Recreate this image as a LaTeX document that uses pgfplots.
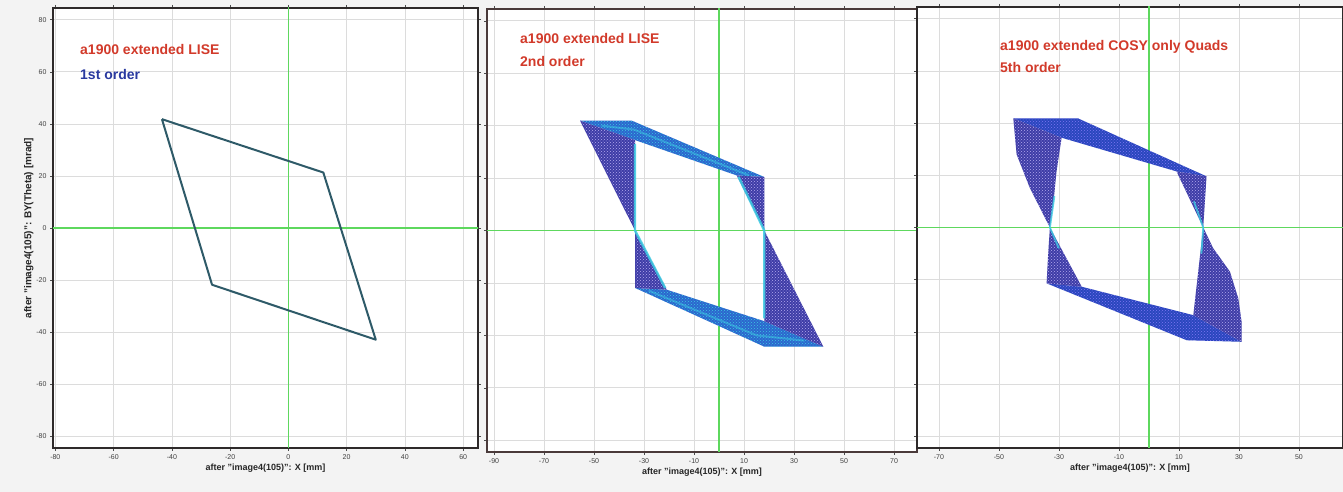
\documentclass[border=0pt]{standalone}
\usepackage{fontspec}
\setmainfont{Liberation Sans}
\usepackage{pgfplots}
\pgfplotsset{compat=1.18}
\usetikzlibrary{patterns}
\definecolor{bg}{HTML}{F3F3F3}
\definecolor{gridc}{HTML}{DCDCDC}
\definecolor{zgreen}{HTML}{5ED85E}
\definecolor{framec}{HTML}{2E2A2A}
\definecolor{framebr}{HTML}{4A3A3A}
\definecolor{tred}{HTML}{D23A2A}
\definecolor{tblue}{HTML}{2A3AA0}
\definecolor{lineteal}{HTML}{2E5A68}
\definecolor{dkfill}{HTML}{3E3CA6}
\definecolor{band}{HTML}{2C66CE}
\definecolor{band3}{HTML}{2A46BE}
\definecolor{cyanl}{HTML}{3CCBE2}
\definecolor{speck}{HTML}{B4AAF0}
\pgfplotsset{
  panel/.style={
    scale only axis, anchor=south west,
    axis line style={line width=1.6pt},
    ymin=-84.5, ymax=84.5, ytick={-80,-60,...,80},
    grid=major, major grid style={gridc, line width=0.6pt},
    tick style={black!70, line width=0.5pt},
    tick align=outside, major tick length=3pt,
    tick label style={font=\fontsize{7}{8}\selectfont, text=black!75},
    /pgf/number format/assume math mode=true,
    axis background/.style={fill=white},
    xlabel style={font=\bfseries\fontsize{9}{10}\selectfont, text=black!85, yshift=2pt},
    clip=true,
  },
  zeroline/.style={zgreen, line width=1.4pt},
}
\begin{document}
\begin{tikzpicture}[x=1pt,y=1pt]
\useasboundingbox (0,0) rectangle (1343,492);
\fill[bg] (0,0) rectangle (1343,492);

% ---------- Panel 1 ----------
\begin{axis}[panel, at={(53pt,44pt)}, width=425pt, height=440pt,
  xmin=-80.8, xmax=65.1, xtick={-80,-60,...,60},
  axis line style={framec},
  xlabel={after "image4(105)": X [mm]},
  ylabel={after "image4(105)": BY(Theta) [mrad]},
  ylabel style={font=\bfseries\fontsize{10}{11}\selectfont, text=black!85, yshift=-4pt}]
\addplot[zeroline] coordinates {(0,-100) (0,100)};
\addplot[zeroline] coordinates {(-100,0) (100,0)};
\addplot[lineteal, line width=2pt, line join=round] coordinates {(-43.4,41.8) (12.0,21.3) (30.0,-42.9) (-26.2,-21.8) (-43.4,41.8)};
\end{axis}

% ---------- Panel 2 ----------
\begin{axis}[panel, at={(487pt,40pt)}, width=430pt, height=443pt,
  xmin=-92.8, xmax=79.2, xtick={-90,-70,...,70}, yticklabels={},
  axis line style={framebr},
  xlabel={after "image4(105)": X [mm]}]
\addplot[zeroline] coordinates {(0,-100) (0,100)};
\addplot[zeroline] coordinates {(-100,0) (100,0)};
% bands
\addplot[fill=band, draw=none] coordinates {(-55.6,41.9) (-34.9,41.9) (18.1,20.4) (7.1,21.0) (-33.6,34.5) (-55.6,41.9)};
\addplot[fill=band, draw=none] coordinates {(-33.6,-21.9) (18.1,-44.3) (41.7,-44.3) (18.1,-34.6) (-20.9,-22.6) (-33.6,-21.9)};
\addplot[pattern=crosshatch dots, pattern color=cyanl, draw=none] coordinates {(-55.6,41.9) (-34.9,41.9) (18.1,20.4) (7.1,21.0) (-33.6,34.5) (-55.6,41.9)};
\addplot[pattern=crosshatch dots, pattern color=cyanl, draw=none] coordinates {(-33.6,-21.9) (18.1,-44.3) (41.7,-44.3) (18.1,-34.6) (-20.9,-22.6) (-33.6,-21.9)};
% triangles
\addplot[fill=dkfill, draw=none] coordinates {(-55.6,41.9) (-33.6,34.5) (-33.6,0) (-55.6,41.9)};
\addplot[fill=dkfill, draw=none] coordinates {(7.1,21.0) (18.1,20.4) (18.1,0) (7.1,21.0)};
\addplot[fill=dkfill, draw=none] coordinates {(-33.6,0) (-33.6,-21.9) (-20.9,-22.6) (-33.6,0)};
\addplot[fill=dkfill, draw=none] coordinates {(18.1,0) (18.1,-34.6) (41.7,-44.3) (18.1,0)};
\addplot[pattern=crosshatch dots, pattern color=speck, draw=none] coordinates {(-55.6,41.9) (-33.6,34.5) (-33.6,0) (-55.6,41.9)};
\addplot[pattern=crosshatch dots, pattern color=speck, draw=none] coordinates {(18.1,0) (18.1,-34.6) (41.7,-44.3) (18.1,0)};
\addplot[pattern=crosshatch dots, pattern color=speck, draw=none] coordinates {(-33.6,0) (-33.6,-21.9) (-20.9,-22.6) (-33.6,0)};
\addplot[pattern=crosshatch dots, pattern color=speck, draw=none] coordinates {(7.1,21.0) (18.1,20.4) (18.1,0) (7.1,21.0)};
% cyan highlights
\addplot[cyanl, line width=2.4pt, opacity=0.85] coordinates {(-33.6,33) (-33.6,0) (-21.5,-22)};
\addplot[cyanl, line width=2.4pt, opacity=0.85] coordinates {(7.8,20.5) (18.1,0) (18.1,-33.5)};
\addplot[cyanl, line width=2pt, opacity=0.5] coordinates {(-47,40) (-34,38.5) (12,21)};
\addplot[cyanl, line width=2pt, opacity=0.5] coordinates {(-28,-23) (15,-40) (34,-42)};
\end{axis}

% ---------- Panel 3 ----------
\begin{axis}[panel, at={(917pt,44pt)}, width=426pt, height=441pt,
  xmin=-77.3, xmax=64.7, xtick={-70,-50,...,50}, yticklabels={},
  axis line style={framec},
  xlabel={after "image4(105)": X [mm]}]
\addplot[zeroline] coordinates {(0,-100) (0,100)};
\addplot[zeroline] coordinates {(-100,0) (100,0)};
\addplot[fill=band3, draw=none] coordinates {(-45.2,41.8) (-23.6,41.8) (19.2,19.6) (9.2,21.5) (-29.1,34.4) (-45.2,41.8)};
\addplot[fill=band3, draw=none] coordinates {(-34.1,-21.4) (12.6,-43.2) (30.9,-43.8) (14.8,-33.6) (-22.4,-22.7) (-34.1,-21.4)};
\addplot[pattern=crosshatch dots, pattern color=speck!70!blue, draw=none] coordinates {(-45.2,41.8) (-23.6,41.8) (19.2,19.6) (9.2,21.5) (-29.1,34.4) (-45.2,41.8)};
\addplot[pattern=crosshatch dots, pattern color=speck!70!blue, draw=none] coordinates {(-34.1,-21.4) (12.6,-43.2) (30.9,-43.8) (14.8,-33.6) (-22.4,-22.7) (-34.1,-21.4)};
\addplot[fill=dkfill, draw=none] coordinates {(-45.2,41.8) (-29.1,34.4) (-30.8,21.5) (-31.9,8.7) (-33,0) (-39.7,15.2) (-44.1,28.0) (-45.2,41.8)};
\addplot[fill=dkfill, draw=none] coordinates {(9.2,21.5) (19.2,19.6) (18.1,0) (9.2,21.5)};
\addplot[fill=dkfill, draw=none] coordinates {(-33,0) (-33.6,-10.5) (-34.1,-21.4) (-22.4,-22.7) (-33,0)};
\addplot[fill=dkfill, draw=none] coordinates {(18.1,0) (21.4,-7.9) (27,-16.9) (29.8,-27.2) (30.9,-36.2) (30.9,-43.8) (14.8,-33.6) (18.1,0)};
\addplot[pattern=crosshatch dots, pattern color=speck, draw=none] coordinates {(-45.2,41.8) (-29.1,34.4) (-30.8,21.5) (-31.9,8.7) (-33,0) (-39.7,15.2) (-44.1,28.0) (-45.2,41.8)};
\addplot[pattern=crosshatch dots, pattern color=speck, draw=none] coordinates {(18.1,0) (21.4,-7.9) (27,-16.9) (29.8,-27.2) (30.9,-36.2) (30.9,-43.8) (14.8,-33.6) (18.1,0)};
\addplot[pattern=crosshatch dots, pattern color=speck, draw=none] coordinates {(-33,0) (-33.6,-10.5) (-34.1,-21.4) (-22.4,-22.7) (-33,0)};
\addplot[pattern=crosshatch dots, pattern color=speck, draw=none] coordinates {(9.2,21.5) (19.2,19.6) (18.1,0) (9.2,21.5)};
\addplot[cyanl, line width=1.8pt, opacity=0.8] coordinates {(-31.5,12) (-33,0) (-30,-8)};
\addplot[cyanl, line width=1.8pt, opacity=0.8] coordinates {(15,10) (18.1,0) (17.5,-10)};
\end{axis}

% ---------- titles ----------
\begin{scope}[every node/.style={anchor=west, inner sep=0pt, font=\bfseries\fontsize{14}{16}\selectfont}]
\node[text=tred] at (80,442) {a1900 extended LISE};
\node[text=tblue] at (80,417) {1st order};
\node[text=tred] at (520,453) {a1900 extended LISE};
\node[text=tred] at (520,430) {2nd order};
\node[text=tred] at (1000,445) {a1900 extended COSY only Quads};
\node[text=tred] at (1000,424) {5th order};
\end{scope}
\end{tikzpicture}
\end{document}
